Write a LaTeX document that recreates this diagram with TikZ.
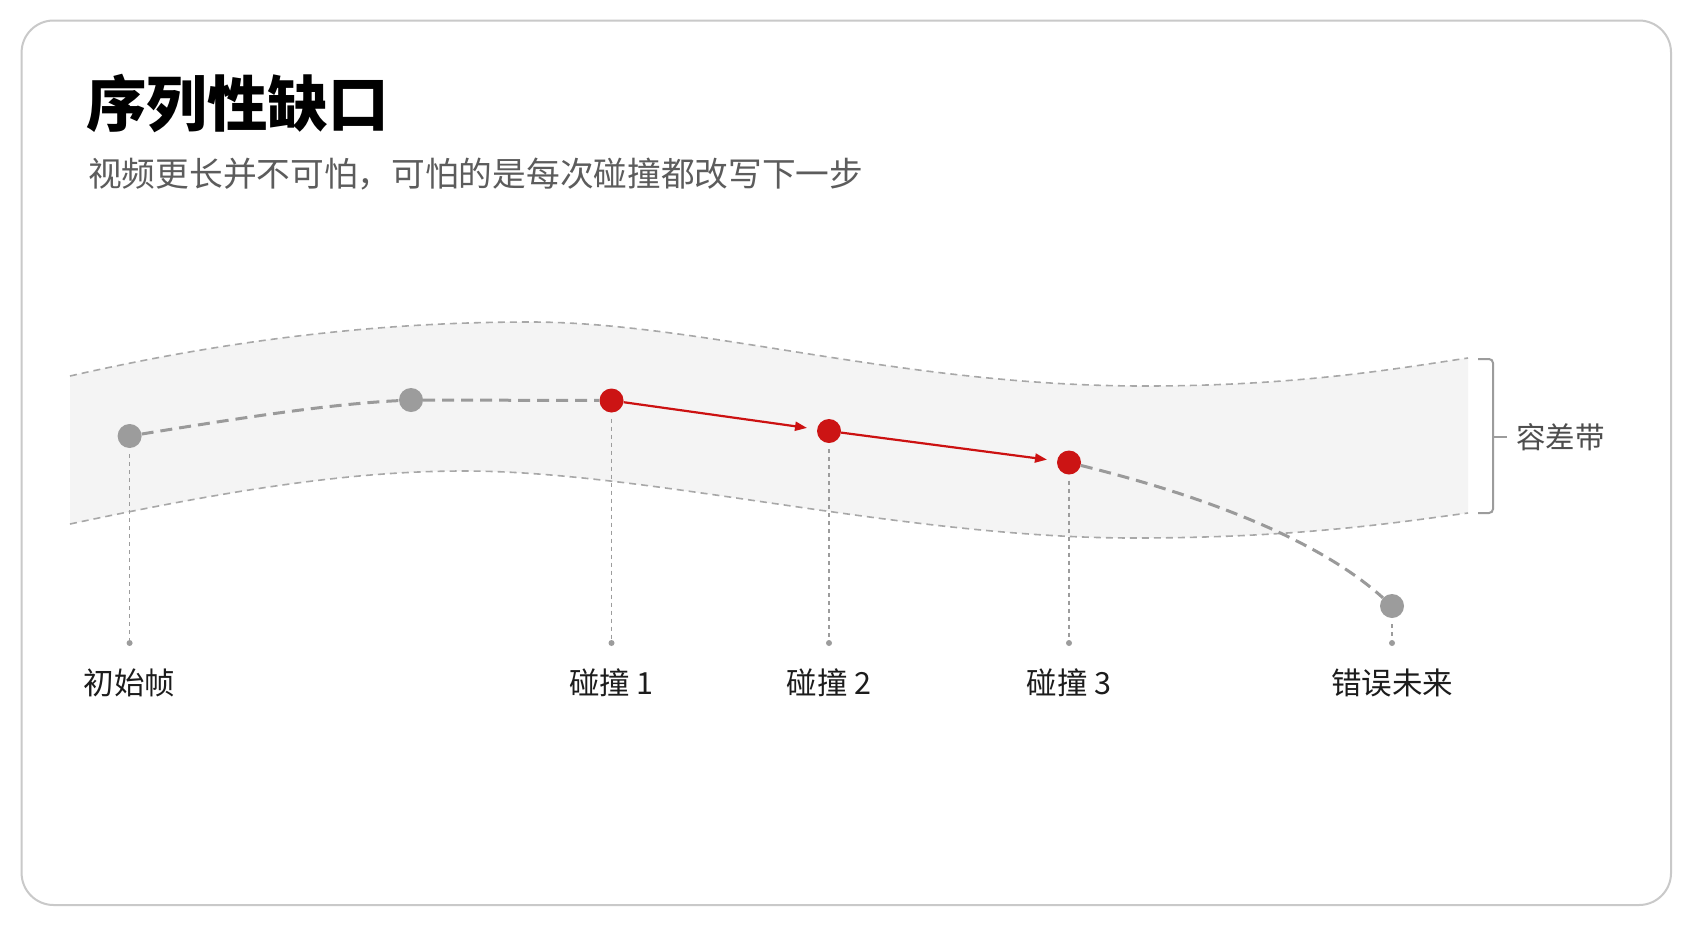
\documentclass[tikz,border=0pt]{standalone}
\usepackage{fontspec}
\setmainfont{Noto Sans CJK SC}
\usetikzlibrary{arrows.meta}
\definecolor{framec}{HTML}{C9C9C9}
\definecolor{bandfill}{HTML}{F4F4F4}
\definecolor{bandline}{HTML}{A8A8A8}
\definecolor{pathgray}{HTML}{9A9A9A}
\definecolor{dotgray}{HTML}{9C9C9C}
\definecolor{dotred}{HTML}{CC1414}
\definecolor{arrred}{HTML}{CC1111}
\definecolor{subgray}{HTML}{5C5C5C}
\definecolor{labdark}{HTML}{1C1C1C}
\tikzset{
  graydot/.style={circle,fill=dotgray,minimum size=24pt,inner sep=0pt},
  reddot/.style={circle,fill=dotred,minimum size=24pt,inner sep=0pt},
  enddot/.style={circle,fill=dotgray,minimum size=6pt,inner sep=0pt},
  bandedge/.style={draw=bandline,line width=1.6pt,dash pattern=on 7pt off 5pt},
  mainpath/.style={draw=pathgray,line width=3pt,dash pattern=on 12pt off 7pt},
  redarrow/.style={draw=arrred,line width=2.2pt,-{Triangle[length=12pt,width=9pt]},shorten >=10pt},
  dropline/.style={draw=dotgray,line width=1.5pt,dash pattern=on 4pt off 4pt,shorten <=6pt},
  steplabel/.style={font=\fontsize{30.5pt}{36pt}\selectfont,text=labdark,inner sep=0pt},
}
\begin{document}
\begin{tikzpicture}[x=1pt,y=-1pt]
\useasboundingbox (0,0) rectangle (1693,929);
\fill[white] (0,0) rectangle (1693,929);
% frame
\draw[framec,line width=2pt,rounded corners=32pt] (21.6,20.5) rectangle (1671,905);
% title
\node[anchor=west,inner sep=0pt,font=\fontsize{60.5pt}{70pt}\selectfont\bfseries] (title) at (86,104) {序列性缺口};
\node[anchor=west,inner sep=0pt,text=subgray,font=\fontsize{33.7pt}{40pt}\selectfont] (subtitle) at (88,174) {视频更长并不可怕，可怕的是每次碰撞都改写下一步};
% band
\fill[bandfill] (70,376) .. controls (250,335) and (400,322) .. (530,322)
  .. controls (700,322) and (900,386) .. (1144,386)
  .. controls (1300,386) and (1400,368) .. (1468,358)
  -- (1468,513)
  .. controls (1400,522) and (1300,538) .. (1134,538)
  .. controls (900,538) and (650,471) .. (464,471)
  .. controls (350,471) and (230,490) .. (70,524) -- cycle;
\draw[bandedge] (70,376) .. controls (250,335) and (400,322) .. (530,322)
  .. controls (700,322) and (900,386) .. (1144,386)
  .. controls (1300,386) and (1400,368) .. (1468,358);
\draw[bandedge] (70,524) .. controls (230,490) and (350,471) .. (464,471)
  .. controls (650,471) and (900,538) .. (1134,538)
  .. controls (1300,538) and (1400,522) .. (1468,513);
% bracket
\draw[dotgray,line width=2pt,rounded corners=4pt] (1478,359) -- (1493,359) -- (1493,513) -- (1478,513);
\draw[dotgray,line width=2pt] (1493,437) -- (1507,437);
\node[anchor=west,inner sep=0pt,text=subgray!85!black,font=\fontsize{29.5pt}{34pt}\selectfont] (band) at (1516,437) {容差带};
% dots
\node[graydot] (p0) at (129.6,436) {};
\node[graydot] (p1) at (411,400) {};
\node[reddot] (c1) at (611.5,400.5) {};
\node[reddot] (c2) at (829,431) {};
\node[reddot] (c3) at (1069,462.5) {};
\node[graydot] (pe) at (1392,606) {};
% end dots
\node[enddot] (e0) at (129.6,643) {};
\node[enddot] (e1) at (611.5,643) {};
\node[enddot] (e2) at (829,643) {};
\node[enddot] (e3) at (1069,643) {};
\node[enddot] (ee) at (1392,643) {};
% main dashed path
\draw[mainpath] (p0) .. controls (240,418) and (330,404) .. (p1);
\draw[mainpath] (p1) -- (c1);
\draw[mainpath] (c3) .. controls (1180,490) and (1310,532) .. (pe);
% red arrows
\draw[redarrow] (c1) -- (c2);
\draw[redarrow] (c2) -- (c3);
% drop lines
\draw[dropline] (p0) -- (e0);
\draw[dropline] (c1) -- (e1);
\draw[dropline] (c2) -- (e2);
\draw[dropline] (c3) -- (e3);
\draw[dropline] (pe) -- (ee);
% labels
\node[steplabel] (l0) at (129.6,683) {初始帧};
\node[steplabel] (l1) at (611.5,683) {碰撞 1};
\node[steplabel] (l2) at (829,683) {碰撞 2};
\node[steplabel] (l3) at (1069,683) {碰撞 3};
\node[steplabel] (le) at (1392,683) {错误未来};
\end{tikzpicture}
\end{document}
